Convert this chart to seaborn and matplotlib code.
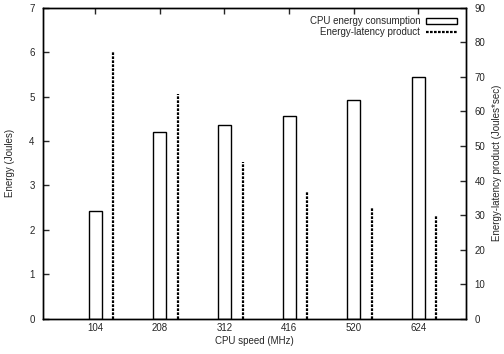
# CPU energy vs energy-latency product, gnuplot-like style
import matplotlib
matplotlib.use("Agg")
import matplotlib.pyplot as plt
import seaborn as sns
import numpy as np
import pandas as pd
from matplotlib.patches import Patch
from matplotlib.lines import Line2D

cpu_speeds = ["104", "208", "312", "416", "520", "624"]
energy = [2.43, 4.21, 4.37, 4.57, 4.93, 5.43]
energy_latency = [77.0, 65.0, 45.5, 37.0, 32.1, 29.8]

sns.set_style("ticks")
plt.rcParams['font.family'] = ['Liberation Sans', 'DejaVu Sans']
plt.rcParams['font.size'] = 7

df = pd.DataFrame({"speed": cpu_speeds, "energy": energy})

fig = plt.figure(figsize=(5.04, 3.54), dpi=100)
ax = fig.add_axes([0.0853, 0.0989, 0.8393, 0.8799])

sns.barplot(data=df, x="speed", y="energy", color="white", edgecolor="black",
            linewidth=1.0, width=0.2, ax=ax)
ax.set_xlim(-0.81, 5.74)
ax.set_ylim(0, 7)
ax.set_yticks(range(0, 8))
ax.set_xlabel("CPU speed (MHz)", fontsize=7, labelpad=2)
ax.set_ylabel("Energy (Joules)", fontsize=7, labelpad=10)

ax2 = ax.twinx()
xpos = np.arange(len(cpu_speeds)) + 0.28
ax2.vlines(xpos, 0, energy_latency, colors="black", linewidth=1.6,
           linestyles=(0, (1.2, 0.6)))
ax2.set_ylim(0, 90)
ax2.set_yticks(range(0, 100, 10))
ax2.set_ylabel("Energy-latency product (Joules*sec)", fontsize=7, labelpad=5)

for a in (ax, ax2):
    for s in a.spines.values():
        s.set_visible(True)
        s.set_linewidth(1.0)
        s.set_color("black")
ax.tick_params(axis="x", direction="in", length=4, width=1, top=True,
               labelsize=7, pad=3)
ax.tick_params(axis="y", direction="in", length=4, width=1, labelsize=7, pad=6)
ax2.tick_params(axis="y", direction="in", length=4, width=1, labelsize=7, pad=6)

handles = [Patch(facecolor="white", edgecolor="black", linewidth=1.0),
           Line2D([0], [0], color="black", linewidth=1.6, linestyle=(0, (1.2, 0.6)))]
leg = ax.legend(handles, ["CPU energy consumption", "Energy-latency product"],
                loc="upper right", frameon=False, fontsize=7, markerfirst=False,
                handlelength=3.2, handleheight=0.5, labelspacing=0.1,
                borderaxespad=0.5, handletextpad=0.6)

fig.savefig("out.png", dpi=100)
